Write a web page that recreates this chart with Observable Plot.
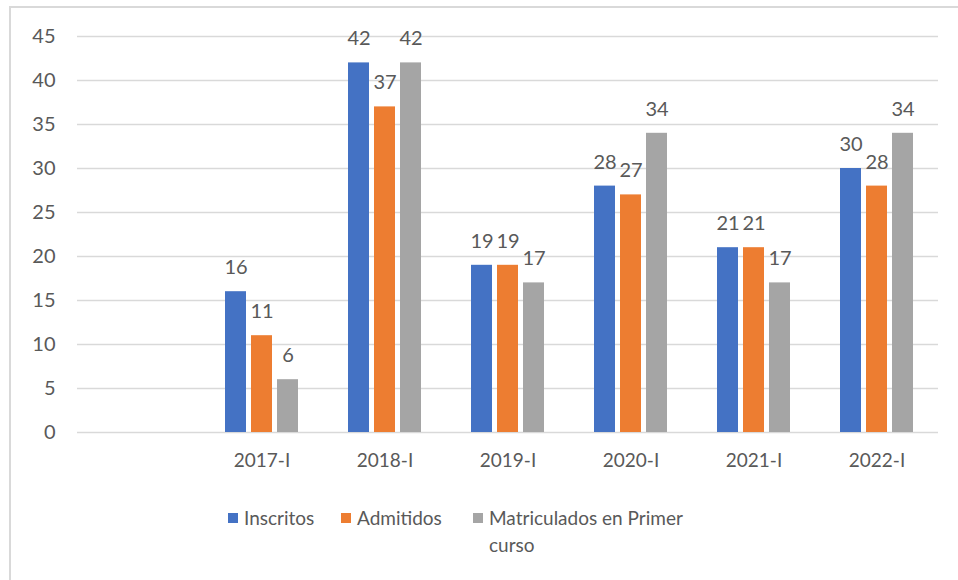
<!DOCTYPE html>
<html>
<head>
<meta charset="utf-8">
<script src="https://cdn.jsdelivr.net/npm/d3@7"></script>
<script src="https://cdn.jsdelivr.net/npm/@observablehq/plot@0.6"></script>
<style>
  html, body { margin: 0; padding: 0; background: #fff; }
  #wrap { position: relative; width: 958px; height: 580px; overflow: hidden; font-family: Lato, sans-serif; background: #fff; }
  #border { position: absolute; left: 9px; top: 6px; width: 1000px; height: 700px; border: 2px solid #d9d9d9; box-sizing: border-box; pointer-events: none; }
  #chart { position: absolute; left: 0; top: 0; }
  #legend { position: absolute; left: 0; top: 480px; width: 958px; font-size: 19px; color: #595959; line-height: 27px; }
  .item { position: absolute; top: 24px; display: flex; align-items: flex-start; }
  .sw { width: 10px; height: 10px; margin-top: 9px; margin-right: 6px; flex: none; }
</style>
</head>
<body>
<div id="wrap">
  <div id="chart"></div>
  <div id="legend"></div>
  <div id="border"></div>
</div>
<script>
const categories = [" ", "2017-I", "2018-I", "2019-I", "2020-I", "2021-I", "2022-I"];
const series = ["Inscritos", "Admitidos", "Matriculados en Primer curso"];
const colors = ["#4472C4", "#ED7D31", "#A5A5A5"];
const periods = ["2017-I", "2018-I", "2019-I", "2020-I", "2021-I", "2022-I"];
const inscritos = [16, 42, 19, 28, 21, 30];
const admitidos = [11, 37, 19, 27, 21, 28];
const matriculados = [6, 42, 17, 34, 17, 34];
const yTicks = [0, 5, 10, 15, 20, 25, 30, 35, 40, 45];

const values = [inscritos, admitidos, matriculados];
const data = [];
periods.forEach((p, i) => {
  series.forEach((s, j) => data.push({period: p, series: s, value: values[j][i]}));
});
const grid = [];
categories.forEach(c => yTicks.forEach(t => grid.push({period: c, tick: t})));

const chart = Plot.plot({
  width: 958,
  height: 480,
  marginLeft: 74,
  marginRight: 17,
  marginTop: 36,
  marginBottom: 48,
  style: {fontFamily: "Lato, sans-serif", fontSize: "19px", color: "#595959", background: "transparent"},
  fx: {domain: categories, padding: 0, label: null},
  x: {domain: series, paddingInner: 0.2, paddingOuter: 0.94, axis: null},
  y: {domain: [0, 45], label: null},
  color: {domain: series, range: colors},
  marks: [
    Plot.ruleY(grid, {fx: "period", y: "tick", stroke: "#d9d9d9", strokeWidth: 1.5}),
    Plot.barY(data, {fx: "period", x: "series", y: "value", fill: "series"}),
    Plot.text(data, {fx: "period", x: "series", y: "value", text: d => String(d.value), dy: -24, fill: "#595959", fontSize: 20}),
    Plot.axisY({ticks: yTicks, tickSize: 0, tickPadding: 22, fill: "#595959", fontSize: 20}),
    Plot.axisFx({anchor: "bottom", tickSize: 0, tickPadding: 21, fill: "#595959", fontSize: 19, label: null})
  ]
});
document.getElementById("chart").appendChild(chart);

const legend = document.getElementById("legend");
const lefts = [228, 341, 473];
const widths = [null, null, 215];
series.forEach((s, j) => {
  const item = document.createElement("div");
  item.className = "item";
  item.style.left = lefts[j] + "px";
  const sw = document.createElement("div");
  sw.className = "sw";
  sw.style.background = colors[j];
  const t = document.createElement("div");
  t.textContent = s;
  if (widths[j]) t.style.width = widths[j] + "px";
  item.appendChild(sw);
  item.appendChild(t);
  legend.appendChild(item);
});
</script>
</body>
</html>
